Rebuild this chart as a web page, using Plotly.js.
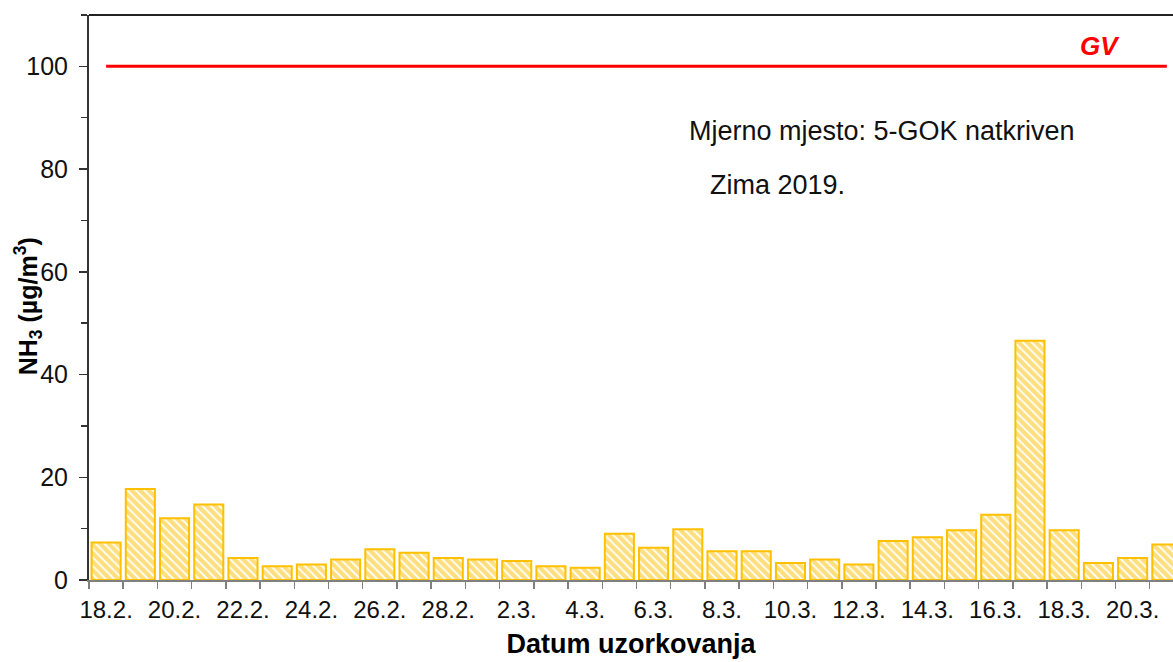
<!DOCTYPE html>
<html>
<head>
<meta charset="utf-8">
<script src="https://cdn.plot.ly/plotly-3.0.1.min.js"></script>
<style>html,body{margin:0;padding:0;background:#fff;}#chart{width:1173px;height:662px;}</style>
</head>
<body>
<div id="chart"></div>
<script>
const dates = ['18.2.','19.2.','20.2.','21.2.','22.2.','23.2.','24.2.','25.2.','26.2.','27.2.','28.2.',
  '1.3.','2.3.','3.3.','4.3.','5.3.','6.3.','7.3.','8.3.','9.3.','10.3.','11.3.','12.3.','13.3.','14.3.',
  '15.3.','16.3.','17.3.','18.3.','19.3.','20.3.','21.3.'];
const nh3 = [7.3,17.7,12.0,14.7,4.3,2.7,3.0,4.0,6.0,5.3,4.3,
  4.0,3.7,2.7,2.4,9.0,6.3,9.9,5.6,5.6,3.3,4.0,3.0,7.6,8.3,
  9.7,12.7,46.6,9.7,3.3,4.3,6.9];
const gv = 100;
const tickLabels = dates.map((d, i) => (i % 2 === 0 ? d : ''));

const FONT = 'Arial, "Liberation Sans", sans-serif';

const traces = [
  {
    type: 'bar',
    x: dates,
    y: nh3,
    marker: {
      color: '#FFFFFF',
      line: {color: '#FFC000', width: 2},
      pattern: {shape: '\\', fgcolor: '#FFBE00', bgcolor: '#FFFFFF', size: 6, solidity: 0.7, fillmode: 'overlay'}
    },
    hoverinfo: 'x+y'
  },
  {
    type: 'scatter',
    mode: 'lines',
    x: [dates[0], dates[dates.length - 1]],
    y: [gv, gv],
    line: {color: '#FF0000', width: 3},
    hoverinfo: 'skip'
  }
];

const layout = {
  width: 1173,
  height: 662,
  margin: {l: 89, r: 0, t: 15, b: 82},
  paper_bgcolor: '#FFFFFF',
  plot_bgcolor: '#FFFFFF',
  showlegend: false,
  bargap: 0.15,
  font: {family: FONT, color: '#111111'},
  xaxis: {
    type: 'category',
    range: [-0.5, 31.18],
    tickmode: 'array',
    tickvals: dates,
    ticktext: tickLabels,
    tickangle: 0,
    tickson: 'boundaries',
    ticks: 'outside',
    ticklen: 7,
    tickwidth: 1.5,
    tickcolor: '#808080',
    showline: true,
    linecolor: '#808080',
    linewidth: 1.5,
    showgrid: false,
    zeroline: false,
    automargin: false,
    tickfont: {family: FONT, size: 24, color: '#111111'},
    ticklabelstandoff: 8,
    title: {text: '<b>Datum uzorkovanja</b>', font: {family: FONT, size: 27, color: '#000000'}, standoff: 12}
  },
  yaxis: {
    range: [0, 110],
    tickmode: 'linear',
    tick0: 0,
    dtick: 20,
    ticks: 'outside',
    ticklen: 8,
    tickwidth: 1.5,
    tickcolor: '#333333',
    minor: {dtick: 10, tick0: 0, ticks: 'outside', ticklen: 6, tickwidth: 1.5, tickcolor: '#333333', showgrid: false},
    showline: true,
    linecolor: '#333333',
    linewidth: 2,
    showgrid: false,
    zeroline: false,
    automargin: false,
    tickfont: {family: FONT, size: 25, color: '#111111'},
    ticklabelstandoff: 6
  },
  shapes: [
    {type: 'line', xref: 'paper', yref: 'paper', x0: 0, x1: 1, y0: 1, y1: 1, line: {color: '#222222', width: 2}}
  ],
  annotations: [
    {xref: 'x', yref: 'y', x: 29.04, y: 104, text: '<b><i>GV</i></b>', showarrow: false,
      xanchor: 'center', yanchor: 'middle', font: {family: FONT, size: 26, color: '#FF0000'}},
    {xref: 'x', yref: 'y', x: 16.98, y: 87.4, text: 'Mjerno mjesto: 5-GOK natkriven', showarrow: false,
      xanchor: 'left', yanchor: 'middle', font: {family: FONT, size: 27, color: '#111111'}},
    {xref: 'x', yref: 'y', x: 17.58, y: 77.0, text: 'Zima 2019.', showarrow: false,
      xanchor: 'left', yanchor: 'middle', font: {family: FONT, size: 27, color: '#111111'}},
    {xref: 'paper', yref: 'paper', x: -0.056, y: 0.485, text: '<b>NH<sub>3</sub> (µg/m<sup>3</sup>)</b>', showarrow: false,
      textangle: -90, xanchor: 'center', yanchor: 'middle', font: {family: FONT, size: 25, color: '#000000'}}
  ]
};

Plotly.newPlot('chart', traces, layout, {displayModeBar: false, staticPlot: true});
</script>
</body>
</html>
